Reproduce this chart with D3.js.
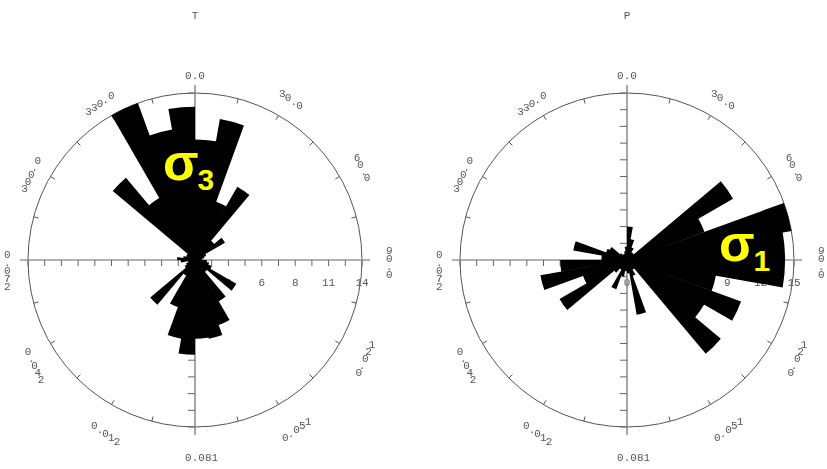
<!DOCTYPE html>
<html>
<head>
<meta charset="utf-8">
<script src="https://cdn.jsdelivr.net/npm/d3@7"></script>
<style>
  body { margin: 0; background: #fff; }
  svg { display: block; }
</style>
</head>
<body>
<div id="container"></div>
<script>
// 10 degree bins, bearing of the bin start
var bins = [0, 10, 20, 30, 40, 50, 60, 70, 80, 90, 100, 110,
            120, 130, 140, 150, 160, 170, 180, 190, 200, 210, 220, 230,
            240, 250, 260, 270, 280, 290, 300, 310, 320, 330, 340, 350];

// T axes (sigma 3)
var countsT = [10.1, 12.0, 5.2, 7.1, 2.1, 2.9, 1.0, 0.8, 0.6, 1.0, 1.2, 1.5,
               4.0, 1.3, 4.0, 5.8, 6.7, 6.6, 7.95, 6.7, 4.2, 1.5, 4.9, 1.0,
               0.8, 0.6, 1.2, 1.5, 1.0, 0.8, 0.8, 9.0, 6.0, 14.0, 11.1, 12.85];

// P axes (sigma 1)
var countsP = [3.0, 1.9, 1.2, 0.8, 0.8, 11.0, 7.4, 15.0, 14.2, 14.2, 8.1, 10.9,
               8.0, 11.0, 1.0, 1.5, 5.0, 1.2, 1.0, 1.5, 2.8, 1.0, 1.5, 7.0,
               4.2, 7.9, 6.0, 2.3, 4.9, 2.0, 1.8, 0.8, 0.6, 0.6, 0.8, 1.2];

var angleBearings = [0, 30, 60, 90, 120, 150, 180, 210, 240, 270, 300, 330];
var angleLabels = ["0.0", "30.0", "60.0", "90.0", "120.0", "150.0",
                   "180.0", "210.0", "240.0", "270.0", "300.0", "330.0"];

var radialTicksT = [0, 2.8, 5.6, 8.4, 11.2, 14];
var radialLabelsT = ["0", "3", "6", "8", "11", "14"];
var radialTicksP = [0, 3, 6, 9, 12, 15];
var radialLabelsP = ["0", "3", "6", "9", "12", "15"];

var titles = ["T", "P"];
var sigmaSubs = ["3", "1"];

var width = 827, height = 469;
var R = 167;
var monoFont = "'Liberation Mono', 'DejaVu Sans Mono', monospace";

var svg = d3.select("#container").append("svg")
    .attr("width", width)
    .attr("height", height);

function rad(deg) { return deg * Math.PI / 180; }

function drawRose(cx, cy, maxVal, counts, tickVals, tickLabels, title) {
  var g = svg.append("g")
      .attr("transform", "translate(" + cx + "," + cy + ")");

  var r = d3.scaleLinear().domain([0, maxVal]).range([0, R]);

  // plain grey text, no colour fringes
  var labels = g.append("g")
      .style("filter", "grayscale(1)")
      .attr("font-family", monoFont)
      .attr("font-size", 11)
      .attr("fill", "#555");

  labels.append("text")
      .attr("x", 0)
      .attr("y", 19 - cy)
      .attr("text-anchor", "middle")
      .text(title);

  // bearing labels: each glyph upright, glyphs stepped along the tangent
  angleBearings.forEach(function(b, k) {
    var chars = angleLabels[k].split("");
    var n = chars.length;
    var a = rad(b);
    var bx = (R + 24) * Math.sin(a), by = -(R + 24) * Math.cos(a);
    var sx = 6.6 * Math.cos(a), sy = 8 * Math.sin(a);
    labels.selectAll(null)
        .data(chars)
      .enter().append("text")
        .attr("x", function(c, i) { return bx + (i - n / 2) * sx; })
        .attr("y", function(c, i) { return by + (i - n / 2) * sy + 10; })
        .text(function(c) { return c; });
  });

  labels.selectAll(".rlab")
      .data(tickVals)
    .enter().append("text")
      .attr("class", "rlab")
      .attr("x", function(v) { return r(v); })
      .attr("y", 26)
      .attr("text-anchor", "middle")
      .text(function(v, i) { return tickLabels[i]; });

  g.append("circle")
      .attr("r", R)
      .attr("fill", "none")
      .attr("stroke", "#555")
      .attr("stroke-width", 1);

  var rimTicks = d3.range(0, 360, 15).filter(function(b) { return b % 90 !== 0; });
  g.selectAll(".rim")
      .data(rimTicks)
    .enter().append("line")
      .attr("class", "rim")
      .attr("x1", function(b) { return (R - 5) * Math.sin(rad(b)); })
      .attr("y1", function(b) { return -(R - 5) * Math.cos(rad(b)); })
      .attr("x2", function(b) { return R * Math.sin(rad(b)); })
      .attr("y2", function(b) { return -R * Math.cos(rad(b)); })
      .attr("stroke", "#555");

  // cross axes
  g.append("line")
      .attr("x1", -R - 8).attr("x2", R + 8)
      .attr("y1", 0).attr("y2", 0)
      .attr("stroke", "#999").attr("stroke-width", 1.5);
  g.append("line")
      .attr("x1", 0).attr("x2", 0)
      .attr("y1", -R - 8).attr("y2", R + 8)
      .attr("stroke", "#888").attr("stroke-width", 1.5);

  var steps = d3.range(1, 11).map(function(i) { return i * maxVal / 10; });
  [-1, 1].forEach(function(s) {
    g.selectAll(null)
        .data(steps)
      .enter().append("line")
        .attr("x1", function(v) { return s * r(v); })
        .attr("x2", function(v) { return s * r(v); })
        .attr("y1", 0).attr("y2", 6)
        .attr("stroke", "#666");
    g.selectAll(null)
        .data(steps)
      .enter().append("line")
        .attr("y1", function(v) { return s * r(v); })
        .attr("y2", function(v) { return s * r(v); })
        .attr("x1", -7).attr("x2", 0)
        .attr("stroke", "#666");
  });

  var arc = d3.arc()
      .innerRadius(0)
      .outerRadius(function(d) { return r(d.v); })
      .startAngle(function(d) { return rad(d.b); })
      .endAngle(function(d) { return rad(d.b + 10); });

  // one path for all wedges, so no seams between neighbours
  var wedges = bins.map(function(b, i) { return {b: b, v: counts[i]}; });
  g.append("path")
      .attr("class", "bars")
      .attr("d", wedges.map(arc).join(""))
      .attr("fill", "#000");

  return g;
}

function sigma(g, x, y, sub) {
  var t = g.append("text")
      .attr("x", x)
      .attr("y", y)
      .attr("font-family", "'Liberation Sans', Arial, sans-serif")
      .attr("font-weight", "bold")
      .attr("fill", "#ffff00");
  t.append("tspan").attr("font-size", 52).text("\u03c3");
  t.append("tspan").attr("font-size", 30).attr("dx", -1).attr("dy", 10).text(sub);
}

var gT = drawRose(195, 260, 14, countsT, radialTicksT, radialLabelsT, titles[0]);
var gP = drawRose(627, 260, 15, countsP, radialTicksP, radialLabelsP, titles[1]);

sigma(gT, -32, -80, sigmaSubs[0]);
sigma(gP, 92, 1, sigmaSubs[1]);
</script>
</body>
</html>
